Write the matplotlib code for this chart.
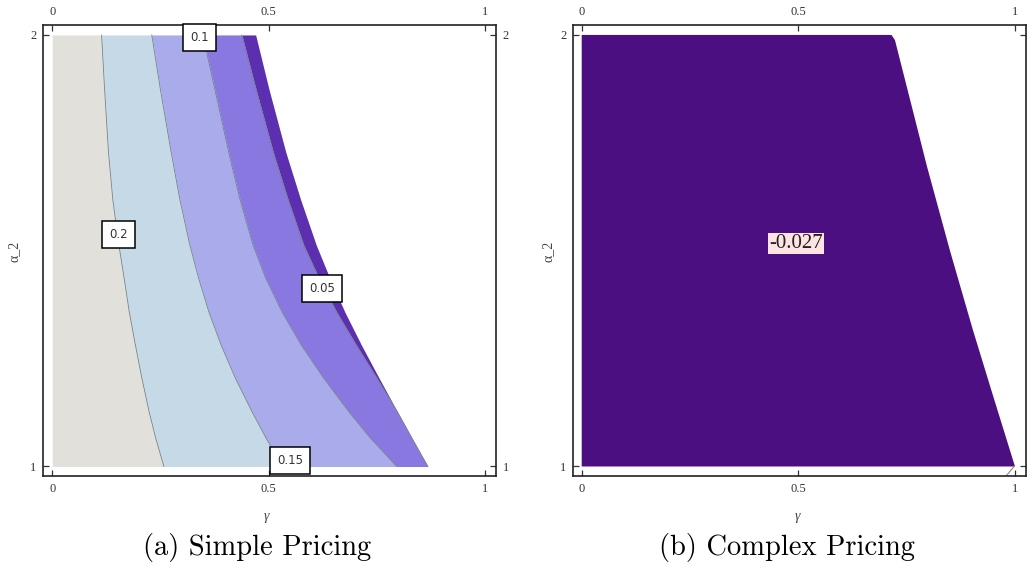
import numpy as np
import matplotlib.pyplot as plt

# alpha_2 levels (top to bottom) at which the simple-pricing contours were traced
alpha_levels = [2.000, 1.873, 1.727, 1.618, 1.513, 1.437, 1.358, 1.282, 1.205, 1.126, 1.066, 1.000]

# gamma position of each contour line at those levels
gamma_c020 = [0.114, 0.121, 0.130, 0.140, 0.154, 0.166, 0.178, 0.192, 0.207, 0.224, 0.239, 0.258]
gamma_c015 = [0.230, 0.250, 0.275, 0.295, 0.318, 0.338, 0.362, 0.390, 0.423, 0.462, 0.494, 0.532]
gamma_c010 = [0.348, 0.376, 0.408, 0.434, 0.464, 0.493, 0.531, 0.575, 0.627, 0.686, 0.735, 0.796]
gamma_c005 = [0.438, 0.471, 0.511, 0.545, 0.581, 0.616, 0.657, 0.702, 0.750, 0.798, 0.831, 0.868]
gamma_edge = [0.470, 0.501, 0.540, 0.574, 0.610, 0.641, 0.676, 0.714, 0.755, 0.798, 0.831, 0.868]

contour_values = [0.2, 0.15, 0.1, 0.05]
band_colors = ['#e1e0da', '#c5d9e6', '#a9abea', '#8878e0', '#5b2fb0']

# complex pricing: feasible region right edge
edge_alpha = [2.0, 1.988, 1.695, 1.5, 1.316, 1.162, 1.0]
edge_gamma = [0.715, 0.723, 0.797, 0.850, 0.903, 0.950, 1.0]
complex_value = -0.027

serif = 'Liberation Serif'

fig = plt.figure(figsize=(10.30, 5.71), dpi=100)
ax1 = fig.add_axes([0.0420, 0.1664, 0.4392, 0.7898])
ax2 = fig.add_axes([0.5566, 0.1664, 0.4392, 0.7898])

a = np.array(alpha_levels)
bounds = [np.zeros_like(a)] + [np.array(c) for c in (gamma_c020, gamma_c015, gamma_c010, gamma_c005, gamma_edge)]
for i, col in enumerate(band_colors):
    ax1.fill_betweenx(a, bounds[i], bounds[i + 1], color=col, lw=0, zorder=1)
for c in (gamma_c020, gamma_c015, gamma_c010, gamma_c005):
    ax1.plot(c, a, color='#74828d', lw=0.6, zorder=2)

# contour labels
label_pos = [(0.153, 1.538), (0.550, 1.014), (0.340, 1.994), (0.623, 1.412)]
for v, (gx, ay) in zip(contour_values, label_pos):
    ax1.text(gx, ay, '%g' % v, fontsize=8.5, family='DejaVu Sans', color='#333333',
             ha='center', va='center', zorder=5,
             bbox=dict(boxstyle='square,pad=0.6', fc='white', ec='black', lw=1.1))

# complex pricing region
px = [0.0, 0.0] + edge_gamma
py = [1.0, 2.0] + edge_alpha
ax2.fill(px, py, color='#4b0f82', lw=0, zorder=1)
ax2.plot([0.981, 0.998], [0.980, 1.0], color='#888888', lw=0.8, zorder=2)
ax2.text(0.494, 1.516, '%g' % complex_value, fontsize=15, family=serif, color='#222222',
         ha='center', va='center', zorder=5,
         bbox=dict(boxstyle='square,pad=0.05', fc='#fde3e3', ec='none'))

for ax, xl in ((ax1, (-0.0208, 1.0245)), (ax2, (-0.0194, 1.0247))):
    ax.set_xlim(*xl)
    ax.set_ylim(0.978, 2.023)
    ax.set_xticks([0, 0.5, 1])
    ax.set_xticklabels(['0', '0.5', '1'])
    ax.set_yticks([1, 2])
    ax.set_yticklabels(['1', '2'])
    ax.tick_params(direction='in', top=True, right=True, labeltop=True, labelright=True,
                   length=4, width=0.9, pad=5, labelsize=9, colors='#333333')
    for lab in ax.get_xticklabels() + ax.get_yticklabels():
        lab.set_family(serif)
    for s in ax.spines.values():
        s.set_linewidth(1.2)
        s.set_color('#222222')

for xg, xa in ((0.2592, 0.0141), (0.7738, 0.5320)):
    fig.text(xg, 0.0946, 'γ', fontsize=10, family=serif, style='italic', color='#444444',
             ha='center', va='center')
    fig.text(xa, 0.5604, 'α_2', fontsize=10, family=serif, color='#444444',
             ha='center', va='center', rotation=90)

fig.text(0.2492, 0.042, '(a) Simple Pricing', fontsize=20.5, family='cmr10', ha='center', va='center')
fig.text(0.7641, 0.042, '(b) Complex Pricing', fontsize=20.5, family='cmr10', ha='center', va='center')

fig.savefig('out.png', dpi=100)
